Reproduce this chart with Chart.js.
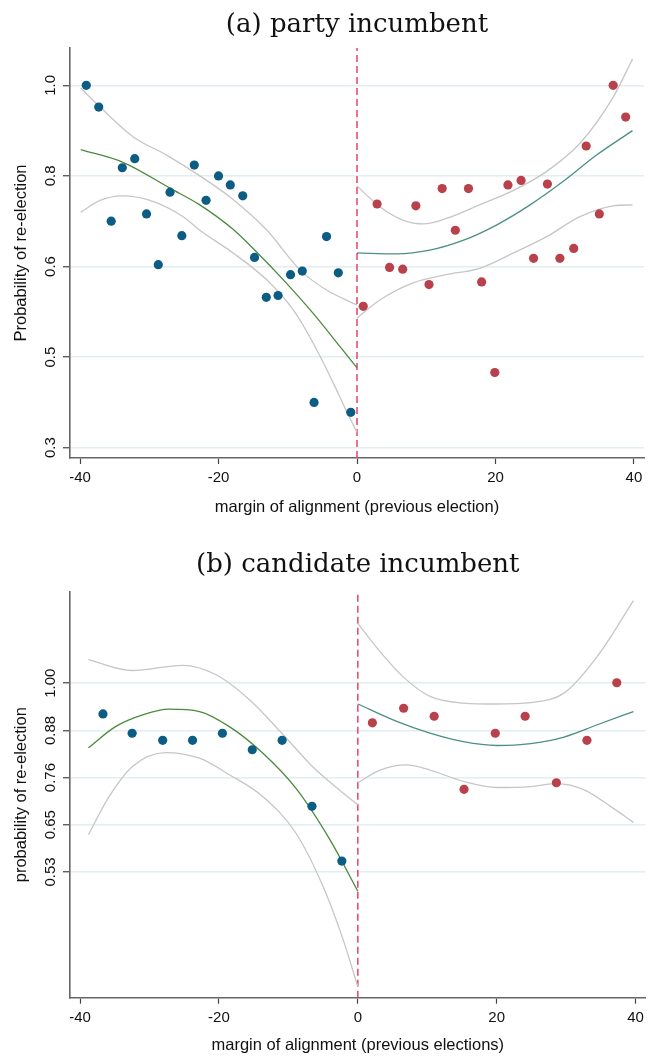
<!DOCTYPE html>
<html>
<head>
<meta charset="utf-8">
<script src="https://cdn.jsdelivr.net/npm/chart.js@4"></script>
<style>
  body { margin: 0; background: #fff; }
  .panel { position: absolute; left: 0; width: 658px; height: 528px; }
</style>
</head>
<body>
<div class="panel" style="top:0"><canvas id="chartA"></canvas></div>
<div class="panel" style="top:528px"><canvas id="chartB"></canvas></div>
<script>
// x axis (margin of alignment)
const xTicks = [-40, -20, 0, 20, 40];

// y axis ticks are equally spaced; values are kept in tick-step units (0..4)
const yTickPos = [0, 1, 2, 3, 4];
const aTickLabels = ['0.3', '0.5', '0.6', '0.8', '1.0'];
const bTickLabels = ['0.53', '0.65', '0.76', '0.88', '1.00'];

// (a) party incumbent - binned means
const aLeftX = [-39.1, -37.3, -35.5, -33.9, -32.1, -30.4, -28.7, -27.0, -25.3, -23.5, -21.8, -20.0, -18.3, -16.5, -14.8, -13.1, -11.4, -9.6, -7.9, -6.2, -4.4, -2.7, -0.9];
const aLeftY = [4.0, 3.76, 2.50, 3.09, 3.19, 2.58, 2.02, 2.82, 2.34, 3.12, 2.73, 3.00, 2.90, 2.78, 2.10, 1.66, 1.68, 1.91, 1.95, 0.50, 2.33, 1.93, 0.39];
const aRightX = [0.9, 2.9, 4.7, 6.6, 8.5, 10.4, 12.3, 14.2, 16.1, 18.0, 19.9, 21.8, 23.7, 25.5, 27.5, 29.3, 31.3, 33.1, 35.0, 37.0, 38.8];
const aRightY = [1.56, 2.69, 1.99, 1.97, 2.67, 1.80, 2.86, 2.40, 2.86, 1.83, 0.83, 2.90, 2.95, 2.09, 2.91, 2.09, 2.20, 3.33, 2.58, 4.00, 3.65];

// (a) fitted polynomials and confidence bands
const aFitLX = [-39.9, -33.8, -26.9, -22.7, -17.9, -14.5, -10.6, -6.3, -2.5, 0];
const aFitLY = [3.29, 3.15, 2.86, 2.68, 2.41, 2.16, 1.85, 1.48, 1.12, 0.88];
const aHiLX = [-39.9, -37.1, -32.3, -27.5, -22.7, -17.9, -13.0, -8.2, -4.4, 0];
const aHiLY = [3.97, 3.76, 3.43, 3.23, 3.00, 2.74, 2.40, 1.96, 1.74, 1.575];
const aLoLX = [-39.9, -37.1, -33.8, -29.9, -25.1, -22.7, -17.9, -13.0, -9.2, -6.3, -3.4, -1.5, 0];
const aLoLY = [2.60, 2.73, 2.78, 2.73, 2.55, 2.40, 2.15, 1.85, 1.52, 1.15, 0.71, 0.40, 0.17];
const aFitRX = [0, 5.7, 10.5, 15.4, 20.2, 25.0, 29.8, 34.6, 39.8];
const aFitRY = [2.15, 2.14, 2.18, 2.29, 2.46, 2.68, 2.94, 3.23, 3.50];
const aHiRX = [0, 3.3, 6.7, 9.6, 12.9, 17.7, 22.6, 27.4, 32.2, 37.0, 39.8];
const aHiRY = [2.89, 2.66, 2.51, 2.47, 2.53, 2.68, 2.84, 3.05, 3.36, 3.87, 4.29];
const aLoRX = [0, 3.3, 8.1, 12.9, 17.7, 22.6, 27.4, 32.2, 37.0, 39.8];
const aLoRY = [1.43, 1.63, 1.82, 1.91, 1.98, 2.15, 2.33, 2.55, 2.67, 2.68];

// (b) candidate incumbent - binned means
const bLeftX = [-36.7, -32.5, -28.1, -23.8, -19.5, -15.2, -10.9, -6.6, -2.3];
const bLeftY = [3.35, 2.94, 2.79, 2.79, 2.94, 2.59, 2.79, 1.39, 0.23];
const bRightX = [2.1, 6.6, 11.0, 15.3, 19.8, 24.1, 28.6, 33.0, 37.3];
const bRightY = [3.16, 3.47, 3.30, 1.75, 2.94, 3.30, 1.89, 2.79, 4.01];

// (b) fitted polynomials and confidence bands
const bFitLX = [-38.8, -34.9, -31.0, -27.2, -22.8, -18.5, -13.7, -8.9, -4.0, 0];
const bFitLY = [2.63, 3.08, 3.33, 3.45, 3.40, 3.08, 2.52, 1.77, 0.68, -0.41];
const bHiLX = [-38.8, -32.5, -25.2, -20.4, -15.6, -11.0, -6.5, -3.0, 0];
const bHiLY = [4.50, 4.27, 4.38, 4.18, 3.65, 2.95, 2.23, 1.78, 1.42];
const bLoLX = [-38.8, -35.8, -32.5, -27.7, -22.8, -18.5, -13.7, -8.9, -5.0, -2.1, 0];
const bLoLY = [0.79, 1.60, 2.23, 2.53, 2.41, 2.06, 1.60, 0.82, -0.31, -1.44, -2.43];
const bFitRX = [0, 5.6, 10.4, 15.2, 20.0, 24.9, 29.7, 34.5, 39.7];
const bFitRY = [3.56, 3.19, 2.94, 2.76, 2.68, 2.72, 2.86, 3.12, 3.40];
const bHiRX = [0, 3.2, 6.5, 10.4, 15.2, 20.0, 24.9, 29.7, 34.5, 39.7];
const bHiRY = [5.27, 4.67, 4.14, 3.72, 3.58, 3.56, 3.59, 3.79, 4.57, 5.75];
const bLoRX = [0, 3.2, 7.0, 10.4, 15.2, 20.0, 24.9, 28.7, 32.6, 36.4, 39.7];
const bLoRY = [1.89, 2.16, 2.27, 2.16, 1.92, 1.79, 1.81, 1.87, 1.74, 1.39, 1.05];

const BLUE = '#0c5d84';
const RED = '#b8414b';
const GREEN = '#4b8a3d';
const TEAL = '#4c8f85';
const GREY = '#c6c6c6';
const CUTOFF = '#e84f70';
const SANS = '"Liberation Sans", Arial, sans-serif';

function pts(xs, ys) {
    return xs.map((x, i) => ({ x: x, y: ys[i] }));
}

function dots(xs, ys, color) {
    return { data: pts(xs, ys), backgroundColor: color, borderWidth: 0, pointRadius: 4.6, showLine: false };
}

function curve(xs, ys, color) {
    return {
        data: pts(xs, ys), borderColor: color, borderWidth: 1.3, pointRadius: 0,
        showLine: true, cubicInterpolationMode: 'monotone'
    };
}

function makeChart(id, p) {
    const ctx = document.getElementById(id).getContext('2d');
    return new Chart(ctx, {
        type: 'scatter',
        data: {
            datasets: [
                dots(p.leftX, p.leftY, BLUE),
                dots(p.rightX, p.rightY, RED),
                curve(p.fitL[0], p.fitL[1], GREEN),
                curve(p.fitR[0], p.fitR[1], TEAL),
                curve(p.hiL[0], p.hiL[1], GREY),
                curve(p.loL[0], p.loL[1], GREY),
                curve(p.hiR[0], p.hiR[1], GREY),
                curve(p.loR[0], p.loR[1], GREY),
                {
                    data: [{ x: 0, y: p.yMin }, { x: 0, y: p.yMax }],
                    borderColor: CUTOFF, borderWidth: 1.6, borderDash: [7, 4],
                    pointRadius: 0, showLine: true
                }
            ]
        },
        options: {
            animation: false,
            responsive: true,
            maintainAspectRatio: false,
            layout: { padding: { left: 0, right: p.padRight, top: 0, bottom: 0 } },
            plugins: {
                legend: { display: false },
                tooltip: { enabled: false },
                title: {
                    display: true,
                    fullSize: false,
                    text: p.title,
                    color: '#111',
                    font: { family: '"DejaVu Serif", serif', size: 26, weight: 'normal' },
                    padding: { top: p.titleTop, bottom: p.titleBottom }
                }
            },
            scales: {
                x: {
                    type: 'linear',
                    min: -41.45,
                    max: 41.45,
                    afterBuildTicks: s => { s.ticks = xTicks.map(v => ({ value: v })); },
                    afterFit: s => { s.height = p.xAxisHeight; },
                    ticks: { color: '#111', font: { family: SANS, size: 15 }, padding: 5, maxRotation: 0 },
                    grid: { drawOnChartArea: false, tickLength: 6, tickColor: '#444', tickWidth: 1.2 },
                    border: { color: '#666', width: 1.6 },
                    title: {
                        display: true, text: p.xTitle, color: '#111',
                        font: { family: SANS, size: 16.5 },
                        padding: { top: 0, bottom: p.xTitleBottom }
                    }
                },
                y: {
                    type: 'linear',
                    min: p.yMin,
                    max: p.yMax,
                    afterBuildTicks: s => { s.ticks = yTickPos.map(v => ({ value: v })); },
                    afterFit: s => { s.width = 70; },
                    ticks: {
                        color: '#111', font: { family: SANS, size: 15 },
                        minRotation: 90, maxRotation: 90, crossAlign: 'center',
                        padding: p.yTickPad,
                        callback: (v, i) => p.yLabels[i]
                    },
                    grid: { color: '#e2eef2', lineWidth: 1.5, tickLength: 7, tickColor: '#444', tickWidth: 1.2 },
                    border: { color: '#666', width: 1.6 },
                    title: {
                        display: true, text: p.yTitle, color: '#111',
                        font: { family: SANS, size: 16.5 },
                        padding: { top: 12, bottom: 0 }
                    }
                }
            }
        }
    });
}

makeChart('chartA', {
    title: '(a) party incumbent',
    xTitle: 'margin of alignment (previous election)',
    yTitle: 'Probability of re-election',
    yLabels: aTickLabels,
    yMin: -0.114, yMax: 4.412,
    leftX: aLeftX, leftY: aLeftY, rightX: aRightX, rightY: aRightY,
    fitL: [aFitLX, aFitLY], fitR: [aFitRX, aFitRY],
    hiL: [aHiLX, aHiLY], loL: [aLoLX, aLoLY],
    hiR: [aHiRX, aHiRY], loR: [aLoRX, aLoRY],
    padRight: 14, titleTop: 9.4, titleBottom: 7.4,
    xAxisHeight: 70, xTitleBottom: 11, yTickPad: 1.6
});

makeChart('chartB', {
    title: '(b) candidate incumbent',
    xTitle: 'margin of alignment (previous elections)',
    yTitle: 'probability of re-election',
    yLabels: bTickLabels,
    yMin: -2.666, yMax: 5.94,
    leftX: bLeftX, leftY: bLeftY, rightX: bRightX, rightY: bRightY,
    fitL: [bFitLX, bFitLY], fitR: [bFitRX, bFitRY],
    hiL: [bHiLX, bHiLY], loL: [bLoLX, bLoLY],
    hiR: [bHiRX, bHiRY], loR: [bLoRX, bLoRY],
    padRight: 12.4, titleTop: 21.4, titleBottom: 11.1,
    xAxisHeight: 58.3, xTitleBottom: 1, yTickPad: -2.6
});
</script>
</body>
</html>
